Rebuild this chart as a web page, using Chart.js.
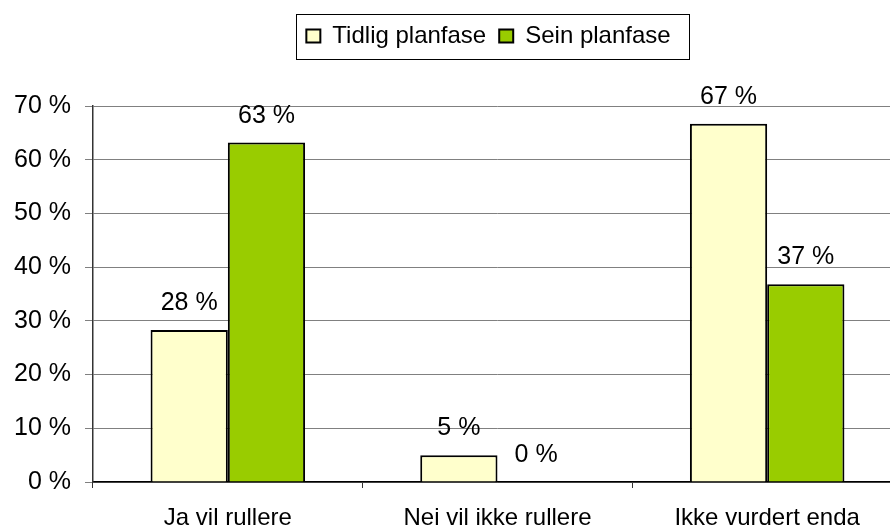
<!DOCTYPE html>
<html>
<head>
<meta charset="utf-8">
<script src="https://cdn.jsdelivr.net/npm/chart.js@4"></script>
<style>
  html, body { margin: 0; padding: 0; background: #fff; overflow: hidden; }
</style>
</head>
<body>
<canvas id="barChart" width="902" height="529"></canvas>
<script>
var categories = ["Ja vil rullere", "Nei vil ikke rullere", "Ikke vurdert enda"];
var seriesNames = ["Tidlig planfase", "Sein planfase"];
var tidlig = [28.3, 5.0, 66.7];
var sein = [63.2, 0, 36.8];
var yTicks = [0, 10, 20, 30, 40, 50, 60, 70];

var fontFamily = "'Liberation Sans', Arial, sans-serif";

// draws the value above each bar
var valueLabels = {
    id: 'valueLabels',
    afterDatasetsDraw: function (chart) {
        var ctx = chart.ctx;
        ctx.save();
        ctx.font = "25px " + fontFamily;
        ctx.fillStyle = "#000";
        ctx.textAlign = "center";
        ctx.textBaseline = "alphabetic";
        chart.data.datasets.forEach(function (ds, i) {
            chart.getDatasetMeta(i).data.forEach(function (bar, j) {
                ctx.fillText(Math.round(ds.data[j]) + " %", bar.x, bar.y - 20);
            });
        });
        ctx.restore();
    }
};

// frame round the legend, legend nudged a bit left
var legendFrame = {
    id: 'legendFrame',
    afterLayout: function (chart) {
        chart.legend.left -= 9;
        chart.legend.right -= 9;
    },
    afterDraw: function (chart) {
        var boxes = chart.legend.legendHitBoxes;
        if (!boxes || !boxes.length) return;
        var first = boxes[0], last = boxes[boxes.length - 1];
        var ctx = chart.ctx;
        ctx.save();
        ctx.strokeStyle = "#000";
        ctx.lineWidth = 1;
        var x1 = Math.round(first.left - 10) + 0.5;
        var x2 = Math.round(last.left + last.width + 18) + 0.5;
        var y1 = Math.round(first.top - 10) + 0.5;
        var y2 = Math.round(first.top + first.height + 11) + 0.5;
        ctx.strokeRect(x1, y1, x2 - x1, y2 - y1);
        ctx.restore();
    }
};

new Chart(document.getElementById("barChart"), {
    type: 'bar',
    data: {
        labels: categories,
        datasets: [
            {
                label: seriesNames[0],
                data: tidlig,
                backgroundColor: "#FFFFCC",
                borderColor: "#000",
                borderWidth: 2,
                categoryPercentage: 0.573,
                barPercentage: 1
            },
            {
                label: seriesNames[1],
                data: sein,
                backgroundColor: "#99CC00",
                borderColor: "#000",
                borderWidth: 2,
                categoryPercentage: 0.573,
                barPercentage: 1
            }
        ]
    },
    options: {
        responsive: false,
        animation: false,
        devicePixelRatio: 1,
        layout: { padding: { top: 11, left: 0, right: 0, bottom: 0 } },
        plugins: {
            tooltip: { enabled: false },
            legend: {
                position: 'top',
                fullSize: false,
                labels: {
                    color: "#000",
                    font: { family: fontFamily, size: 24 },
                    boxWidth: 14,
                    boxHeight: 13,
                    padding: 13
                }
            },
            title: {
                display: true,
                text: '',
                weight: 500,
                font: { size: 10 },
                padding: { top: 0, bottom: 36 }
            }
        },
        scales: {
            x: {
                grid: {
                    display: true,
                    drawOnChartArea: false,
                    drawTicks: true,
                    tickLength: 6,
                    color: "#333"
                },
                border: { color: "#000", width: 1.5 },
                ticks: {
                    color: "#000",
                    font: { family: fontFamily, size: 24 },
                    padding: 16,
                    maxRotation: 0
                },
                afterFit: function (scale) { scale.height = 47; }
            },
            y: {
                min: 0,
                max: 70,
                afterBuildTicks: function (scale) {
                    scale.ticks = yTicks.map(function (v) { return { value: v }; });
                },
                grid: {
                    color: "#808080",
                    tickLength: 8,
                    drawTicks: true
                },
                border: { color: "#333", width: 1.5 },
                ticks: {
                    color: "#000",
                    font: { family: fontFamily, size: 25 },
                    padding: 14,
                    callback: function (v) { return v + " %"; }
                },
                afterFit: function (scale) { scale.width = 93; }
            }
        }
    },
    plugins: [valueLabels, legendFrame]
});
</script>
</body>
</html>
